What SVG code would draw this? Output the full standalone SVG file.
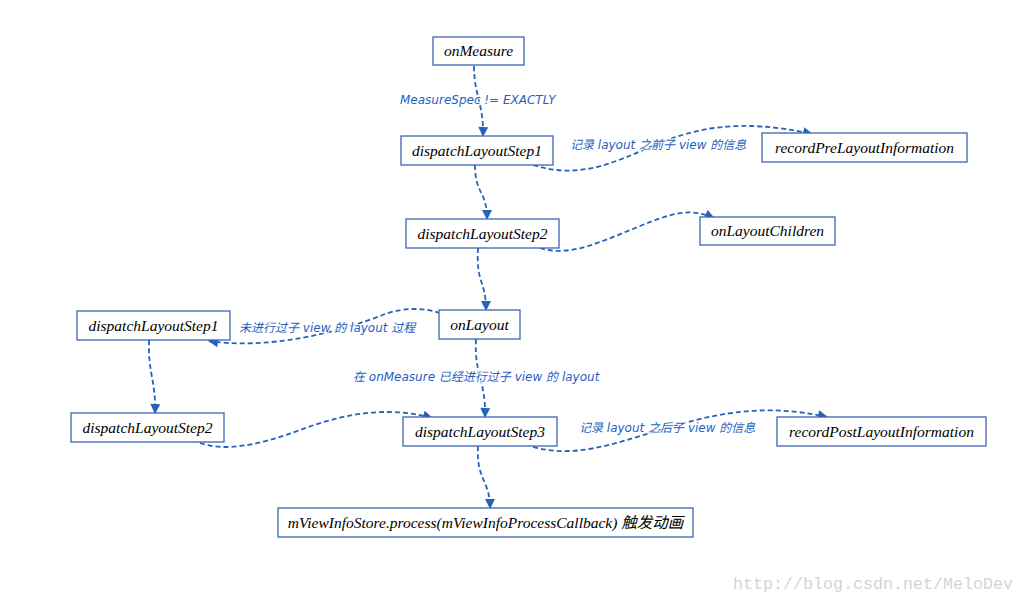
<svg xmlns="http://www.w3.org/2000/svg" width="1026" height="603" viewBox="0 0 1026 603">
<style>
.box{fill:#fff;stroke:#3b65b5;stroke-width:1.3}
.nt{font-family:"Liberation Serif","Noto Sans CJK SC",serif;font-style:italic;font-size:15.5px;fill:#000;text-anchor:middle}
.lb{font-family:"DejaVu Sans","Noto Sans CJK SC",sans-serif;font-style:oblique;font-size:12px;fill:#1f5fc0;stroke:#fff;stroke-width:2.5;stroke-opacity:0.85;paint-order:stroke;stroke-linejoin:round}
.e{fill:none;stroke:#2563b8;stroke-width:1.8;stroke-dasharray:5,3;marker-end:url(#ah)}
.wm{font-family:"Liberation Mono",monospace;font-size:17px;fill:#d4d4d4}
</style>
<defs>
<marker id="ah" viewBox="0 0 10 10" refX="9" refY="5" markerUnits="userSpaceOnUse" markerWidth="11" markerHeight="10" orient="auto">
<path d="M0,0 L10,5 L0,10 z" fill="#2563b8"/>
</marker>
</defs>
<rect width="1026" height="603" fill="#fff"/>
<g id="connectors">
<path class="e" d="M474,66 C474,95 484,105 483,136"/>
<path class="e" d="M533,165 C580,180 615,162 655,145 S740,118 812,134"/>
<path class="e" d="M475,165 C475,195 487,190 487,219"/>
<path class="e" d="M540,248 C570,258 605,240 640,226 S690,208 714,218"/>
<path class="e" d="M478,248 C476,285 486,280 486,310"/>
<path class="e" d="M440,313 C425,308 405,307 385,314 C340,332 270,350 209,341"/>
<path class="e" d="M149,340 C148,375 156,380 155,413"/>
<path class="e" d="M200,443 C225,452 260,445 300,430 S385,405 432,418"/>
<path class="e" d="M476,339 C474,375 486,380 485,417"/>
<path class="e" d="M533,447 C575,458 610,445 660,430 S760,402 827,417"/>
<path class="e" d="M478,446 C476,480 490,480 490,508"/>
<text class="lb" x="400" y="104">MeasureSpec != EXACTLY</text>
<text class="lb" x="570" y="149">记录 layout 之前子 view 的信息</text>
<text class="lb" x="239" y="332">未进行过子 view 的 layout 过程</text>
<text class="lb" x="353" y="381">在 onMeasure 已经进行过子 view 的 layout</text>
<text class="lb" x="579" y="432">记录 layout 之后子 view 的信息</text>
</g>
<g id="onMeasure"><rect class="box" x="433" y="37" width="91" height="28"/><text class="nt" x="478.5" y="56">onMeasure</text></g>
<g id="dispatchLayoutStep1"><rect class="box" x="401" y="136" width="152" height="29"/><text class="nt" x="477" y="155.5">dispatchLayoutStep1</text></g>
<g id="recordPreLayoutInformation"><rect class="box" x="762" y="133" width="205" height="29"/><text class="nt" x="864.5" y="152.5">recordPreLayoutInformation</text></g>
<g id="dispatchLayoutStep2"><rect class="box" x="406" y="219" width="153" height="29"/><text class="nt" x="482.5" y="238.5">dispatchLayoutStep2</text></g>
<g id="onLayoutChildren"><rect class="box" x="700" y="217" width="135" height="28"/><text class="nt" x="767.5" y="236">onLayoutChildren</text></g>
<g id="onLayout"><rect class="box" x="439" y="310" width="81" height="29"/><text class="nt" x="479.5" y="329.5">onLayout</text></g>
<g id="dispatchLayoutStep1b"><rect class="box" x="77" y="311" width="153" height="29"/><text class="nt" x="153.5" y="330.5">dispatchLayoutStep1</text></g>
<g id="dispatchLayoutStep2b"><rect class="box" x="71" y="413" width="153" height="29"/><text class="nt" x="147.5" y="432.5">dispatchLayoutStep2</text></g>
<g id="dispatchLayoutStep3"><rect class="box" x="403" y="417" width="154" height="29"/><text class="nt" x="480" y="436.5">dispatchLayoutStep3</text></g>
<g id="recordPostLayoutInformation"><rect class="box" x="777" y="417" width="209" height="29"/><text class="nt" x="881.5" y="436.5">recordPostLayoutInformation</text></g>
<g id="mViewInfoStore"><rect class="box" x="278" y="508" width="415" height="29"/><text class="nt" x="485.5" y="527.5">mViewInfoStore.process(mViewInfoProcessCallback) 触发动画</text></g>
<text class="wm" x="733" y="589" textLength="280" lengthAdjust="spacingAndGlyphs">http://blog.csdn.net/MeloDev</text>
</svg>
